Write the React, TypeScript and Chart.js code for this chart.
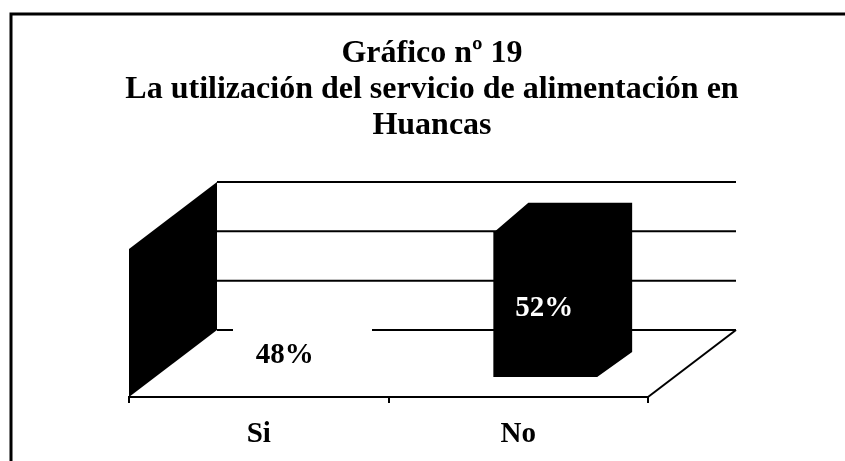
import React, { useEffect, useRef } from "react";
import { Chart, registerables } from "chart.js";

Chart.register(...registerables);

const categories = ["Si", "No"];
const percentages = [48, 52];
const titleLines = ["Gráfico nº 19", "La utilización del servicio de alimentación en", "Huancas"];
const axisMax = 53;

const FONT = "'Liberation Serif', 'Times New Roman', serif";
const DEPTH = { x: 88, y: -67 };
const BAR_OFFSET = { x: 27, y: -20 };
const BAR_DEPTH = { x: 35, topY: -29, bottomY: -25 };
const LABEL_SHIFT = [46, 4];
const BASE_GAP = [233, 372];

const poly = (ctx: CanvasRenderingContext2D, pts: number[][], fill: string) => {
  ctx.beginPath();
  pts.forEach((p, i) => (i ? ctx.lineTo(p[0], p[1]) : ctx.moveTo(p[0], p[1])));
  ctx.closePath();
  ctx.fillStyle = fill;
  ctx.fill();
};

const line = (ctx: CanvasRenderingContext2D, x1: number, y1: number, x2: number, y2: number) => {
  ctx.beginPath();
  ctx.moveTo(x1, y1);
  ctx.lineTo(x2, y2);
  ctx.stroke();
};

const chart3d = {
  id: "chart3d",
  beforeDraw(chart: any) {
    const { ctx, width, height } = chart;
    ctx.save();
    ctx.strokeStyle = "#000";
    ctx.lineWidth = 3;
    ctx.beginPath();
    ctx.moveTo(11, height);
    ctx.lineTo(11, 14);
    ctx.lineTo(width, 14);
    ctx.stroke();
    ctx.restore();
  },
  beforeDatasetsDraw(chart: any) {
    const { ctx, chartArea: a, scales } = chart;
    const yScale = scales.y;
    ctx.save();
    ctx.strokeStyle = "#000";
    ctx.lineWidth = 2;
    yScale.ticks.forEach((t: any) => {
      const y = yScale.getPixelForValue(t.value) + DEPTH.y;
      const x1 = a.left + DEPTH.x;
      const x2 = a.right + DEPTH.x;
      if (t.value === 0) {
        line(ctx, x1, y, BASE_GAP[0], y);
        line(ctx, BASE_GAP[1], y, x2, y);
      } else {
        line(ctx, x1, y, x2, y);
      }
    });
    poly(
      ctx,
      [
        [a.left, a.bottom],
        [a.left, a.top],
        [a.left + DEPTH.x, a.top + DEPTH.y],
        [a.left + DEPTH.x, a.bottom + DEPTH.y],
      ],
      "#000"
    );
    line(ctx, a.right, a.bottom, a.right + DEPTH.x, a.bottom + DEPTH.y);
    ctx.restore();
  },
  beforeDatasetDraw(chart: any, args: any) {
    const { ctx } = chart;
    const meta = chart.getDatasetMeta(args.index);
    ctx.save();
    ctx.translate(BAR_OFFSET.x, BAR_OFFSET.y);
    meta.data.forEach((el: any, i: number) => {
      const c = chart.data.datasets[args.index].backgroundColor[i];
      const l = el.x - el.width / 2;
      const r = el.x + el.width / 2;
      poly(
        ctx,
        [
          [l, el.y + 1],
          [l + BAR_DEPTH.x, el.y + BAR_DEPTH.topY],
          [r + BAR_DEPTH.x, el.y + BAR_DEPTH.topY],
          [r + BAR_DEPTH.x, el.base + BAR_DEPTH.bottomY],
          [r, el.base],
          [r - 2, el.base],
          [r - 2, el.y + 1],
        ],
        c
      );
    });
  },
  afterDatasetDraw(chart: any, args: any) {
    const { ctx } = chart;
    ctx.restore();
    const meta = chart.getDatasetMeta(args.index);
    ctx.save();
    ctx.font = `bold 29px ${FONT}`;
    ctx.textAlign = "center";
    ctx.textBaseline = "middle";
    meta.data.forEach((el: any, i: number) => {
      ctx.fillStyle = i === 1 ? "#fff" : "#000";
      ctx.fillText(
        `${percentages[i]}%`,
        el.x + BAR_OFFSET.x - 1,
        (el.y + el.base) / 2 + BAR_OFFSET.y + LABEL_SHIFT[i]
      );
    });
    ctx.restore();
  },
};

export default function App() {
  const ref = useRef<HTMLCanvasElement>(null);
  useEffect(() => {
    const chart = new Chart(ref.current as HTMLCanvasElement, {
      type: "bar",
      data: {
        labels: categories,
        datasets: [
          {
            data: percentages,
            backgroundColor: ["rgba(255,255,255,0)", "#000"],
            barPercentage: 0.4,
            categoryPercentage: 1,
          },
        ],
      },
      options: {
        responsive: false,
        animation: false,
        layout: { padding: { left: 19, right: 0, top: 0, bottom: 0 } },
        plugins: {
          legend: { display: false },
          tooltip: { enabled: false },
          title: {
            display: true,
            text: titleLines,
            color: "#000",
            font: { family: FONT, size: 32, weight: "bold", lineHeight: 1.14 },
            padding: { top: 35, bottom: 104.6 },
          },
        },
        scales: {
          x: {
            border: { display: true, color: "#000", width: 2 },
            grid: { display: true, drawOnChartArea: false, drawTicks: true, tickLength: 6, color: "#000", lineWidth: 2 },
            ticks: { color: "#000", padding: 14, maxRotation: 0, font: { family: FONT, size: 29, weight: "bold" } },
            afterFit(s: any) {
              s.height = 64;
            },
          },
          y: {
            min: 0,
            max: axisMax,
            position: "left",
            border: { display: false },
            grid: { display: false },
            ticks: { count: 4, display: false },
            afterFit(s: any) {
              s.width = 110;
            },
          },
          yRight: {
            position: "right",
            border: { display: false },
            grid: { display: false },
            ticks: { display: false },
            afterFit(s: any) {
              s.width = 197;
            },
          },
        },
      },
      plugins: [chart3d],
    } as any);
    return () => chart.destroy();
  }, []);
  return (
    <canvas
      ref={ref}
      width={845}
      height={461}
      style={{ position: "fixed", left: 0, top: 0, display: "block" }}
    />
  );
}
